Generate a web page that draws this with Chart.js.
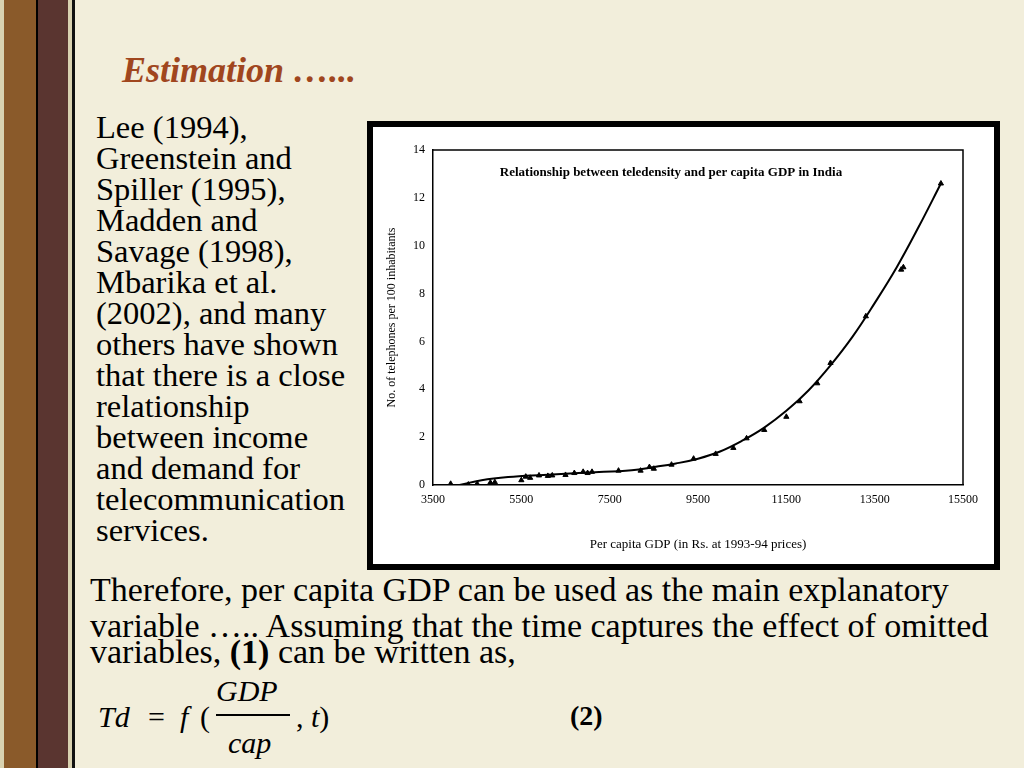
<!DOCTYPE html>
<html><head><meta charset="utf-8">
<script src="https://cdn.jsdelivr.net/npm/chart.js@4"></script>
<style>
body{margin:0;width:1024px;height:768px;overflow:hidden;background:#f2eedb;font-family:"Liberation Serif","Times New Roman",serif;position:relative}
#strip{position:absolute;left:0;top:0;width:72px;height:768px;background:linear-gradient(90deg,#d9d2b0 0 4px,#8a5a2a 4px 36px,#000 36px 38px,#5a3530 38px 68px,#d9d2b0 68px 72px);border-right:3px solid #111}
.t{position:absolute;color:#000;white-space:nowrap}
#title{left:122px;top:49px;font-size:36px;font-style:italic;font-weight:bold;color:#a0461e}
#para{left:96px;top:112px;font-size:32.5px;line-height:31px}
#box{position:absolute;left:367px;top:121px;width:621px;height:437px;border:6px solid #000;background:#fff}
#p2{left:90px;top:572px;font-size:34px;line-height:36px}
</style></head><body>
<div id="strip"></div>
<div class="t" id="title">Estimation …...</div>
<div class="t" id="para">Lee (1994),<br>Greenstein and<br>Spiller (1995),<br>Madden and<br>Savage (1998),<br>Mbarika et al.<br>(2002), and many<br>others have shown<br>that there is a close<br>relationship<br>between income<br>and demand for<br>telecommunication<br>services.</div>
<div id="box"><canvas id="c" width="621" height="437"></canvas></div>
<div class="t" id="p2">Therefore, per capita GDP can be used as the main explanatory<br>variable ….. Assuming that the time captures the effect of omitted<br><span style="position:relative;top:-10px">variables, <b>(1)</b> can be written as,</span></div>
<div class="t" style="left:98px;top:700px;font-size:30px;font-style:italic">Td</div>
<div class="t" style="left:148px;top:700px;font-size:30px">=</div>
<div class="t" style="left:180px;top:700px;font-size:30px;font-style:italic">f</div>
<div class="t" style="left:200px;top:700px;font-size:30px">(</div>
<div class="t" style="left:216px;top:674px;font-size:30px;font-style:italic">GDP</div>
<div style="position:absolute;left:216px;top:714px;width:74px;height:2px;background:#000"></div>
<div class="t" style="left:228px;top:726px;font-size:30px;font-style:italic">cap</div>
<div class="t" style="left:296px;top:700px;font-size:30px">, <i>t</i>)</div>
<div class="t" style="left:570px;top:700px;font-size:28px;font-weight:bold">(2)</div>
<script>
const obsGDP=[3900,4300,4500,4800,4900,5500,5600,5700,5900,6100,6200,6500,6700,6900,7000,7100,7700,8200,8400,8500,8900,9400,9900,10300,10600,11000,11500,11800,12200,12500,13300,14100,14150,15000];
const obsTd=[0.05,0.02,0.05,0.1,0.12,0.2,0.35,0.3,0.4,0.38,0.4,0.42,0.5,0.55,0.5,0.55,0.6,0.6,0.75,0.68,0.85,1.1,1.3,1.55,1.95,2.3,2.85,3.5,4.25,5.1,7.05,9.0,9.1,12.6];
const fitGDP=[4100,4600,5200,6000,7000,8000,8500,9000,9500,10000,10500,11000,11500,12000,12500,13000,13500,14000,14500,15000];
const fitTd=[0.0,0.2,0.33,0.42,0.52,0.62,0.75,0.9,1.1,1.4,1.85,2.4,3.1,3.95,5.0,6.2,7.6,9.1,10.8,12.6];
const xTicks=[3500,5500,7500,9500,11500,13500,15500];
const chartTitle="Relationship between teledensity and per capita GDP in India";
const inTitle={id:'inTitle',afterDraw(ch){const c=ch.ctx,a=ch.chartArea;c.save();c.font='bold 13px "Liberation Serif"';c.fillStyle='#000';c.textAlign='center';c.fillText(chartTitle,(a.left+a.right)/2-27,a.top+26);c.restore();}};
new Chart(document.getElementById('c'),{type:'scatter',
data:{datasets:[
{data:fitGDP.map((x,i)=>({x,y:fitTd[i]})),showLine:true,borderColor:'#000',borderWidth:2,pointRadius:0,tension:0.4},
{data:obsGDP.map((x,i)=>({x,y:obsTd[i]})),pointStyle:'triangle',pointRadius:3,backgroundColor:'#000',borderColor:'#000'}]},
options:{responsive:false,animation:false,plugins:{legend:{display:false},tooltip:{enabled:false}},
layout:{padding:{left:8,right:31,top:23,bottom:8}},
scales:{x:{type:'linear',min:3500,max:15500,afterBuildTicks(s){s.ticks=xTicks.map(v=>({value:v}));},
grid:{display:false,drawTicks:true,tickLength:5,color:'#000'},border:{color:'#000',width:1.5},
ticks:{color:'#000',font:{family:'Liberation Serif',size:12},callback:v=>v,maxRotation:0},
title:{display:true,text:'Per capita GDP (in Rs. at 1993-94 prices)',color:'#000',font:{family:'Liberation Serif',size:13},padding:{top:10}},
afterFit(s){s.height=71;}},
y:{min:0,max:14,ticks:{stepSize:2,color:'#000',font:{family:'Liberation Serif',size:12}},
grid:{display:false,tickLength:5},border:{color:'#000',width:1.5},
title:{display:true,text:'No. of telephones per 100 inhabitants',color:'#000',font:{family:'Liberation Serif',size:12}},
afterFit(s){s.width=52;}}}},
plugins:[inTitle,{id:'frame',afterDraw(ch){const c=ch.ctx,a=ch.chartArea;c.save();c.strokeStyle='#000';c.lineWidth=1.5;c.beginPath();c.moveTo(a.left,a.top);c.lineTo(a.right,a.top);c.lineTo(a.right,a.bottom);c.stroke();c.restore();}}]});
</script>
</body></html>
